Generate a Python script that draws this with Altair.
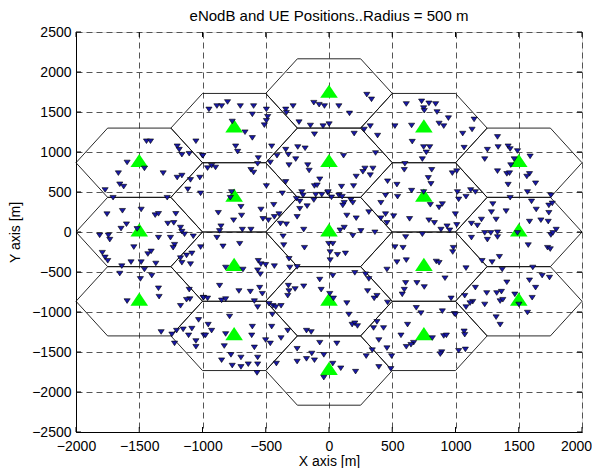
import altair as alt
import pandas as pd
import math

# ---- data ----
RADIUS = 500
enb_x = [0, 0, 750, 750, 0, -750, -750, 0, 750, 1500, 1500, 1500, 750, 0, -750, -1500, -1500, -1500, -750]
enb_y = [0, 866, 433, -433, -866, -433, 433, 1732, 1299, 866, 0, -866, -1299, -1732, -1299, -866, 0, 866, 1299]

ue_x = [
    -1443, -1411, -1052, -1200, -1184, -1163, -1105, -1000, -1596, -1459, -1311, -1665, -1200, -1163, -1095, -1021,
    -1654, -1623, -1116, -1770, -1015, -1707, -1279, -1755, -1633, -1485, -1374, -1348, -1211, -1601, -1644, -1274,
    -1227, -1517, -1174, -1163, -1142, -1813, -1744, -1733, -1348, -1253, -1073, -1221, -1232, -1543, -1015,
    -802, -886, -849, -949, -701, -596, -495, -606, -485, -495, -511, -765, -664, -606, -342, -337, -284, -120, -78,
    -36, -237, -147, -47, 1, -115, -453, -738, -722, -342, -321, -247, -189, -997, -559, -564, -464, -411, -263,
    -928, -960, -897, -617, -596, -316, -168, -157, -73, -342, -115, -94, -495, -770, -780, -369, -215, -205, -105,
    -57, -10, -258, -231, -120, -696, -437, -538, -231, -173, -875, -691, -754, -522, -479, -432, -395, -384, -337,
    -252, -854, -865, -685, -617, -886, -200, -363, -838, -706, -358, -194,
    299, 336, 78, 162, 611, 732, 790, 843, 748, 753, 854, 944, 870, 907, 521, 653, 326, 278, 199, 384, 658, 748,
    796, 769, 738, 115, 368, 600, 595, 812, 975, 284, 347, 268, 326, 215, 463, 537, 785, 806, 99, 194, 653, 748,
    447, 542, -7, 78, 104, 20, 173, 188, 120, 109, 410, 801, 896, 870, 315, 447, 410, 458, 511, 637, 141, 215, 790,
    833, 885, 933, 954, 88, 120, 252, 363, 188, 738, 606, -2, 30, 521, 585,
    1147, 1131, 1057, 1068, 1332, 1337, 1252, 1416, 1432, 1490, 1231, 1464, 1590, 1437, 1332, 1406, 1427, 1585,
    1564, 1633, 1416, 1010, 1015, 1083, 1025, 1120, 1157, 1569, 1432, 1754, 1295, 1601, 1738, 1765, 1284, 1400,
    1638, 1738, 1321, 1205, 1585, 1675, 1733, 999, 1010, 1126, 1173, 1231, 1279, 1332, 1252, 1332, 1126, 1490,
    1754, 1770, 1796, 1575, 1728, 1749, 983,
    -1792, -1770, -1749, -1432, -1406, -1565, -1485, -1369, -1638, -1654, -1459, -1401, -1491, -1174, -1126, -1084,
    -1163, -1095, -1348, -1343, -1105, -1100, -1126, -1174, -994, -1596, -1031, -1084, -1153, -1205, -1242, -1327,
    -1110, -1052, -1052, -1221, -989,
    -559, -538, -501, -432, -564, -543, -680, -817, -712, -622, -548, -527, -865, -992, -960, -849, -817, -590, -564,
    -316, -310, -252, -200, -321, -316, -268, -326, -73, -62, 6, -474, -443, -421, -379, -448, -786, -955, -928,
    -976, -817, -606, -453, -379, -326, -611, -501, -464, -828, -590, -775, -696, -849, -765, -696, -638, -564,
    -564, -416, -569, -178, -141, -73, -136, -178, -115, -252, -252, -41, -41,
    9, 67, 130, 9, 537, 611, 458, 848, 870, 917, 30, 204, 289, 315, 379, 357, 305, 463, 606, 695, 753, 595, 579, 35,
    141, 157, 183, 204, 225, 690, 727, 896, 965, 991, 379, 431, 352, 394, 621, 569, 669, 648, 611, 907, 928, 891,
    880, 817, 62, 294, 342, 458, 495, 394, 489, 30, 93, 210,
    978, 1083, 1210, 1289, 1347, 1369, 1611, 1685, 1743, 1406, 1585, 1633, 1606, 1157, 1247, 1326, 1363, 1073,
    1136, 1115, 1231, 1083, 1353, 1374, 1469, 1501, 1569, 1321, 1353, 999, 1068, 1073, 1025, 1078,
]
ue_y = [
    1144, 1144, 1144, 1081, 1039, 976, 988, 963, 879, 804, 745, 745, 690, 715, 661, 690,
    606, 577, 543, 535, 493, 438, 438, 233, 275, 291, 220, 237, 237, 107, 52, 115,
    124, 48, 65, 14, -19, -32, -32, -86, -61, -61, -44, -149, -187, -179, -179,
    1635, 1584, 1584, 1542, 1584, 1584, 1542, 1480, 1450, 1400, 1345, 1391, 1257, 1186, 1542, 1500, 1584, 1626, 1601,
    1584, 1383, 1341, 1333, 1358, 1232, 1081, 1081, 1014, 1039, 976, 1072, 1056, 963, 934, 862, 879, 963, 921,
    837, 808, 816, 787, 753, 846, 846, 778, 669, 636, 585, 594, 585, 510, 438, 493, 510, 468, 476,
    476, 501, 426, 392, 409, 325, 350, 291, 300, 333, 250, 216, 157, 174, 157, 199, 233, 115, 107,
    199, 82, 23, 40, 40, -61, 40, -44, -170, -137, -154, -187,
    1727, 1668, 1584, 1492, 1610, 1643, 1618, 1610, 1559, 1526, 1509, 1433, 1366, 1333, 1333, 1341, 1333, 1291, 1240, 1215, 1139, 1072,
    1072, 1005, 921, 963, 997, 862, 787, 787, 745, 804, 804, 762, 720, 703, 644, 602, 686, 611, 577, 585, 527, 510,
    468, 451, 510, 468, 451, 443, 409, 375, 375, 342, 375, 350, 359, 317, 258, 233, 182, 124, 208, 174, 216, 182, 157,
    124, 40, 82, 31, 31, 65, 23, 6, -36, -19, -53, -137, -137, -179, -187,
    1417, 1291, 1240, 1064, 1198, 1072, 1039, 1081, 1047, 1022, 921, 921, 955, 846, 770, 736, 745, 736,
    703, 619, 602, 770, 510, 451, 417, 535, 510, 510, 438, 468, 359, 392, 342, 367, 258, 270,
    291, 250, 166, 166, 140, 157, 140, 233, 98, 115, 90, -2, -2, 6, -86, -53, -61, -2,
    -28, -2, 40, -154, -187, -204, -187,
    -249, -308, -350, -266, -233, -367, -367, -384, -417, -510, -459, -535, -577, -317, -283, -258,
    -375, -392, -694, -799, -711, -829, -837, -913, -812, -854, -1089, -1198, -1207, -1223, -1270, -1240,
    -1282, -1353, -1425, -1383, -1282,
    -350, -392, -400, -417, -468, -518, -459, -434, -728, -736, -686, -762, -661, -812, -820, -845, -829, -854, -929,
    -325, -434, -426, -669, -661, -728, -703, -787, -585, -711, -762, -887, -913, -929, -913, -1022, -1047, -1148, -1223,
    -1282, -1265, -1173, -1173, -1316, -1223, -1282, -1341, -1383, -1416, -1433, -1526, -1559, -1593, -1660, -1677, -1643, -1559,
    -1643, -1635, -1752, -1223, -1240, -1374, -1509, -1576, -1593, -1610, -1450, -1526, -1811,
    -241, -275, -258, -342, -367, -342, -459, -359, -375, -568, -535, -501, -518, -577, -787, -820, -728, -871, -627, -627, -678, -711, -770, -820,
    -879, -1022, -1148, -1131, -1165, -938, -1005, -980, -820, -1013, -1114, -1190, -1190, -1341, -1148, -1282, -1374, -1400, -1425, -1290, -1282, -1492,
    -1517, -1316, -1383, -1542, -1467, -1442, -1542, -1677, -1702, -1635, -1694, -1736,
    -241, -442, -350, -367, -300, -459, -434, -535, -560, -619, -594, -686, -812, -686, -753, -753, -736, -787,
    -862, -879, -896, -929, -854, -837, -770, -896, -997, -1055, -1148, -1022, -1232, -1274, -1475, -1458,
]

tick_values = [-2000, -1500, -1000, -500, 0, 500, 1000, 1500, 2000]
ytick_values = [-2500, -2000, -1500, -1000, -500, 0, 500, 1000, 1500, 2000, 2500]

# ---- tables ----
n = min(len(ue_x), len(ue_y))
ue_df = pd.DataFrame({"x": ue_x[:n], "y": ue_y[:n]})
enb_df = pd.DataFrame({"x": enb_x, "y": enb_y})

hex_rows = []
for c, (cx, cy) in enumerate(zip(enb_x, enb_y)):
    for k in range(7):
        a = math.radians(60 * (k % 6))
        hex_rows.append({"cell": c, "order": k,
                         "x": cx + RADIUS * math.cos(a), "y": cy + RADIUS * math.sin(a)})
hex_df = pd.DataFrame(hex_rows)

FONT = "Liberation Sans"
W, H = 506, 400

xscale = alt.Scale(domain=[-2000, 2000], nice=False, zero=False)
yscale = alt.Scale(domain=[-2500, 2500], nice=False, zero=False)

xaxis = alt.Axis(values=tick_values, format="d", title="X axis [m]", grid=True, gridDash=[6, 4],
                 gridColor="#555", gridWidth=1, ticks=False, tickSize=0, domainColor="black", domainWidth=1,
                 labelFont=FONT, labelFontSize=14, labelColor="black", labelPadding=7, labelFlush=False,
                 labelOffset={"condition": {"test": "datum.value == 2000", "value": -6}, "value": 0},
                 labelOverlap=False, titleFont=FONT, titleFontSize=14, titleFontWeight="normal",
                 titleColor="black", titlePadding=1)
yaxis = alt.Axis(values=ytick_values, format="d", title="Y axis [m]", grid=True, gridDash=[6, 4],
                 gridColor="#555", gridWidth=1, ticks=False, tickSize=0, domainColor="black", domainWidth=1,
                 labelFont=FONT, labelFontSize=14, labelColor="black", labelPadding=5, labelFlush=False,
                 labelOverlap=False, titleFont=FONT, titleFontSize=14, titleFontWeight="normal",
                 titleColor="black", titlePadding=9)


def X(field="x"):
    return alt.X(f"{field}:Q", scale=xscale, axis=xaxis)


def Y(field="y"):
    return alt.Y(f"{field}:Q", scale=yscale, axis=yaxis)


hexes = alt.Chart(hex_df).mark_line(color="#111", strokeWidth=0.9).encode(
    x=X(), y=Y(), detail="cell:N", order="order:Q")

TRI_UP = "M-1,0.5L1,0.5L0,-1Z"
TRI_DOWN = "M-1,-0.5L1,-0.5L0,1Z"

enb = alt.Chart(enb_df).mark_point(shape=TRI_UP, filled=True, fill="#00ff00", color="#00ff00",
                                   strokeWidth=0, size=310, opacity=1).encode(x=X(), y=Y())

ue = alt.Chart(ue_df).mark_point(shape=TRI_DOWN, filled=True, fill="#1818a8", stroke="black",
                                 strokeWidth=0.6, size=38, opacity=1).encode(x=X(), y=Y())

# inward tick marks on all four sides
tick_df = pd.DataFrame({"x": tick_values})
ytick_df = pd.DataFrame({"y": ytick_values})
tb = alt.Chart(tick_df).mark_rule(color="black", strokeWidth=1).encode(
    x=X(), y=alt.value(H), y2=alt.value(H - 5))
tt = alt.Chart(tick_df).mark_rule(color="black", strokeWidth=1).encode(
    x=X(), y=alt.value(0), y2=alt.value(5))
tl = alt.Chart(ytick_df).mark_rule(color="black", strokeWidth=1).encode(
    y=Y(), x=alt.value(0), x2=alt.value(5))
tr = alt.Chart(ytick_df).mark_rule(color="black", strokeWidth=1).encode(
    y=Y(), x=alt.value(W), x2=alt.value(W - 5))

chart = alt.layer(hexes, enb, ue, tb, tt, tl, tr).properties(
    width=W, height=H,
    title=alt.TitleParams("eNodB and UE Positions..Radius = 500 m", font=FONT, fontSize=15,
                          fontWeight="normal", color="black", offset=1),
    autosize=alt.AutoSizeParams(type="none"),
    padding={"left": 68, "top": 24, "right": 10, "bottom": 36},
).configure_view(stroke=None).configure(background="white")

chart.save("out.html", embed_options={"renderer": "svg", "actions": False})
